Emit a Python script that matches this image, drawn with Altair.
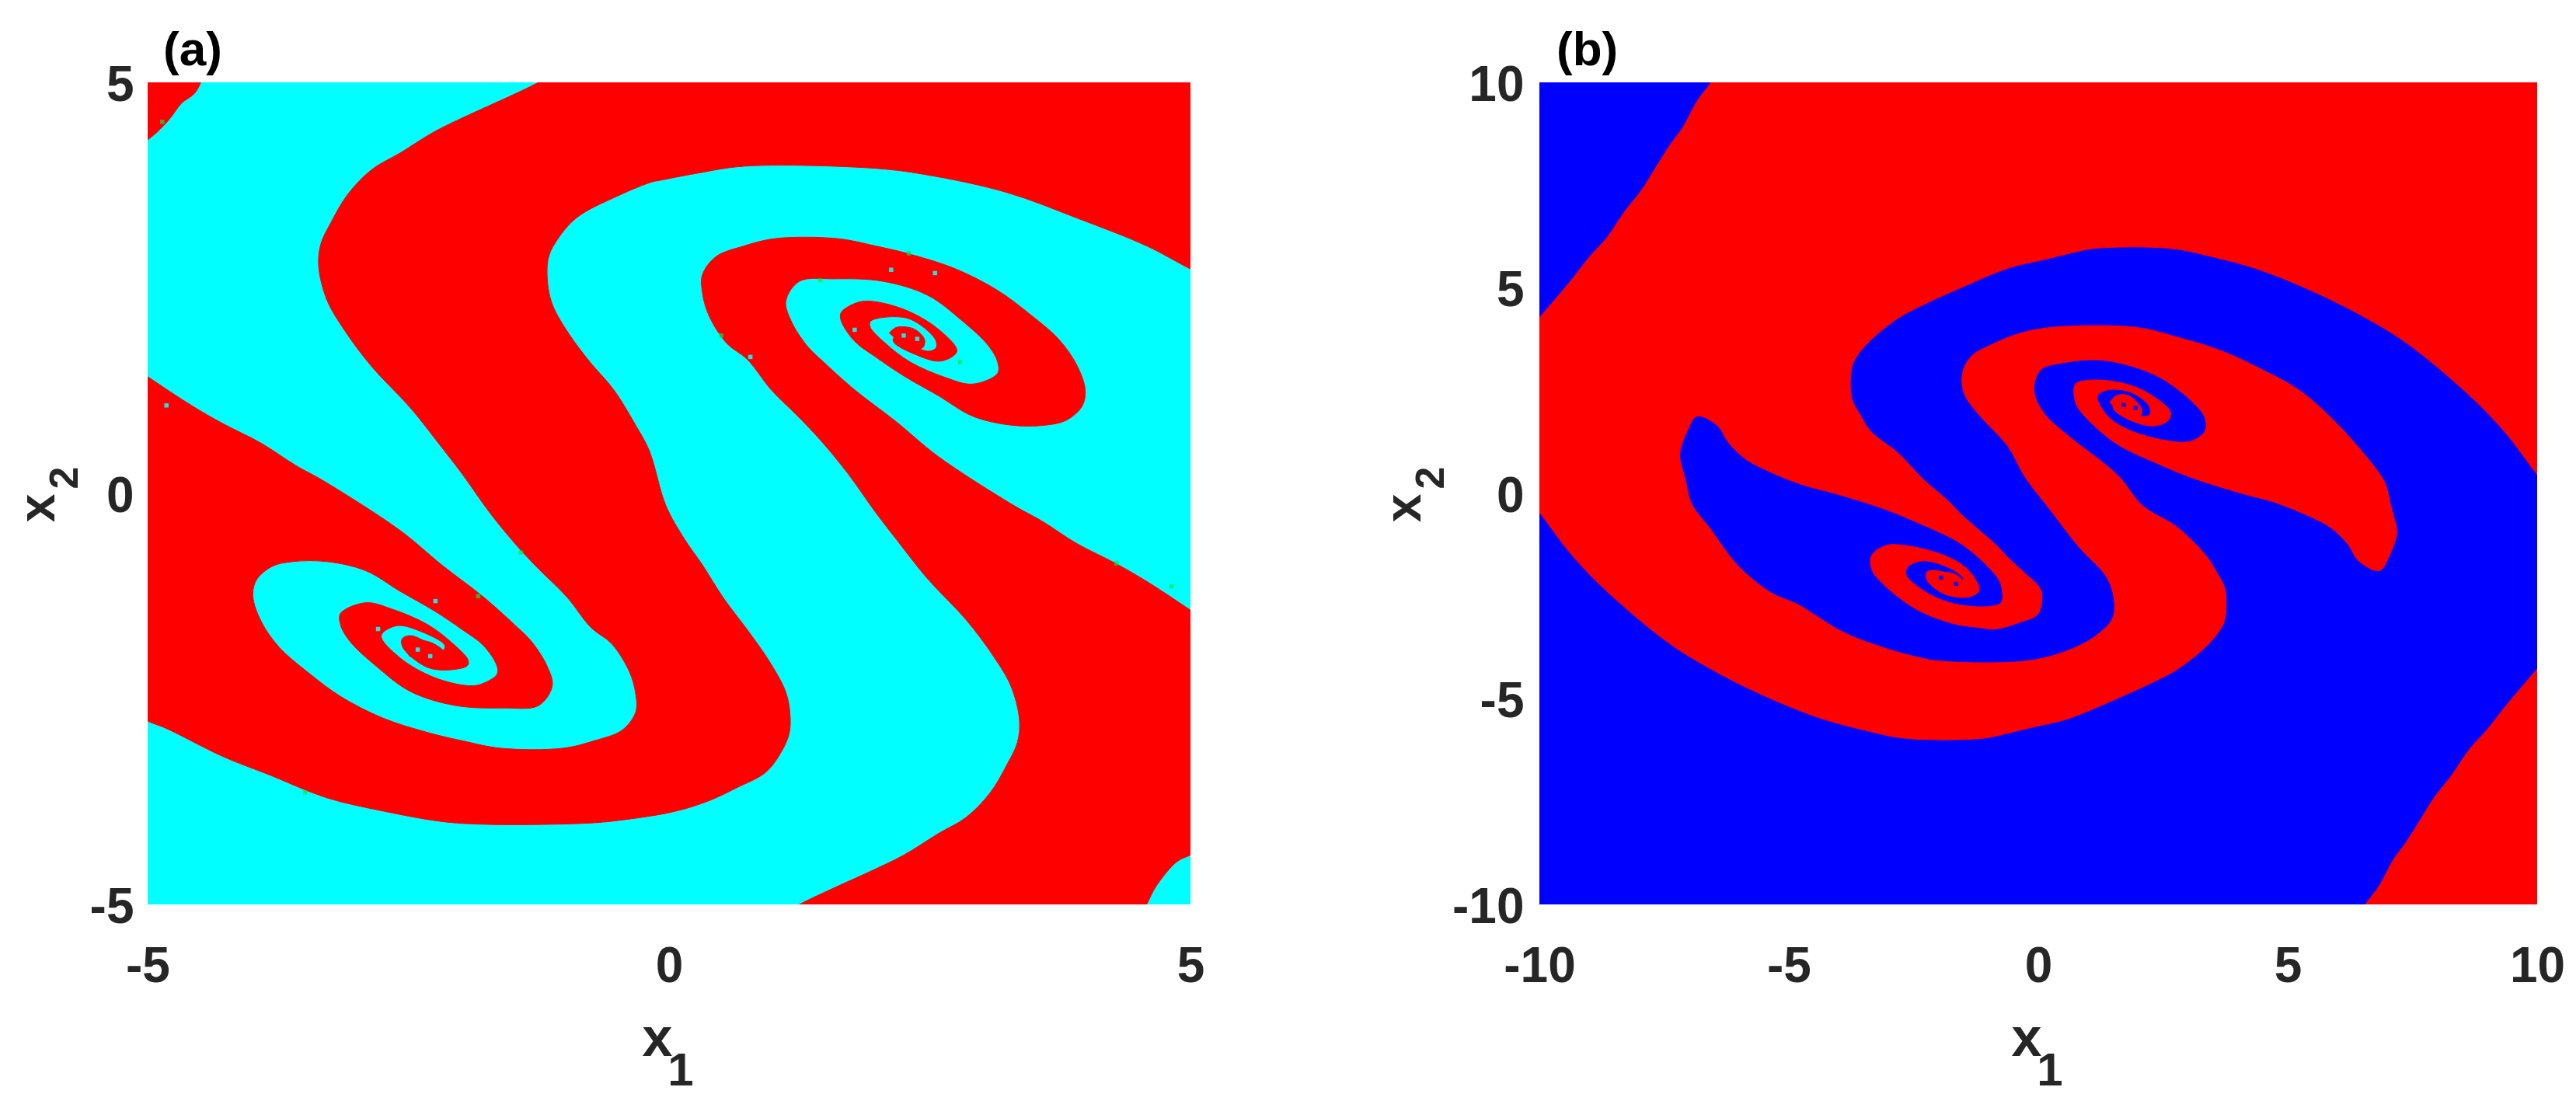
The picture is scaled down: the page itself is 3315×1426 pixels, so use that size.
import altair as alt
import pandas as pd

# ---------- panel (a): basin boundaries (x1, x2) ----------
# first and last vertices lie just outside the frame, so the clipped outline meets the frame cleanly
A_RED_UPPER = [
 (5.5,5.5),(5.5,2.43),(5,2.73),(4.58,3.01),(3.91,3.35),(3.24,3.66),(2.45,3.88),(1.91,3.96),(0.72,3.98),(0.25,3.89),(-0.08,3.81),
 (-0.16,3.79),(-0.49,3.62),(-0.89,3.35),(-1.09,3.05),(-1.16,2.85),(-1.16,2.51),(-1.11,2.27),(-0.96,1.94),(-0.76,1.60),
 (-0.53,1.26),(-0.33,0.85),(-0.19,0.52),(-0.03,-0.15),(0.15,-0.56),(0.32,-0.87),(0.52,-1.27),(0.78,-1.71),(0.98,-2.08),
 (1.12,-2.42),(1.16,-2.69),(1.15,-2.93),(1.05,-3.20),(0.92,-3.40),(0.65,-3.58),(0.38,-3.74),(0.05,-3.87),(-0.43,-3.97),
 (-0.76,-4.01),(-1.49,-4.03),(-1.89,-4.02),(-2.19,-3.99),(-2.72,-3.87),(-3.29,-3.70),(-3.82,-3.43),(-4.28,-3.20),
 (-4.82,-2.86),(-5,-2.77),(-5.5,-2.45),(-5.5,1.85),(-5,1.42),(-4.58,1.07),(-4.28,0.85),(-3.91,0.61),(-3.58,0.34),(-3.31,0.15),(-2.58,-0.45),
 (-2.18,-0.87),(-1.78,-1.26),(-1.48,-1.60),(-1.32,-1.80),(-1.17,-2.10),(-1.12,-2.34),(-1.25,-2.58),(-1.58,-2.61),
 (-2.05,-2.58),(-2.48,-2.41),(-2.81,-2.10),(-3.06,-1.80),(-3.15,-1.60),(-3.15,-1.46),(-2.91,-1.33),(-2.65,-1.41),
 (-2.31,-1.60),(-2.08,-1.82),(-1.93,-2.02),(-1.93,-2.09),(-2.05,-2.14),(-2.31,-2.12),(-2.55,-1.88),(-2.56,-1.77),
 (-2.48,-1.73),(-2.31,-1.82),(-2.18,-1.93),(-2.15,-1.85),(-2.38,-1.68),(-2.61,-1.61),(-2.76,-1.73),(-2.58,-2.00),
 (-2.25,-2.24),(-1.91,-2.34),(-1.78,-2.31),(-1.65,-2.20),(-1.65,-2.10),(-1.78,-1.85),(-1.98,-1.66),(-2.25,-1.43),
 (-2.58,-1.19),(-2.91,-0.94),(-3.28,-0.83),(-3.61,-0.83),(-3.81,-0.89),(-3.96,-1.06),(-3.99,-1.26),(-3.91,-1.56),
 (-3.74,-1.87),(-3.44,-2.20),(-3.15,-2.47),(-2.75,-2.73),(-2.31,-2.91),(-1.98,-3.01),(-1.61,-3.10),(-1.02,-3.10),
 (-0.72,-3.01),(-0.45,-2.88),(-0.32,-2.66),(-0.32,-2.44),(-0.38,-2.17),(-0.55,-1.83),(-0.75,-1.63),(-0.98,-1.26),
 (-1.25,-0.92),(-1.45,-0.65),(-1.71,-0.25),(-1.98,0.23),(-2.18,0.56),(-2.48,1.04),(-2.85,1.54),(-3.11,1.98),
 (-3.28,2.35),(-3.36,2.76),(-3.34,3.03),(-3.24,3.30),(-3.08,3.64),(-2.85,3.94),(-2.58,4.14),(-2.25,4.40),(-1.91,4.61),
 (-1.58,4.80),(-1.25,5),(-0.9,5.25),
]
A_RED_LOWER = [
 (0.9,-5.25),(1.25,-5),(1.58,-4.80),(1.91,-4.61),(2.25,-4.40),(2.58,-4.14),(2.85,-3.94),(3.08,-3.64),(3.24,-3.30),(3.34,-3.03),
 (3.36,-2.76),(3.28,-2.35),(3.11,-1.98),(2.85,-1.54),(2.48,-1.04),(2.18,-0.56),(1.98,-0.23),(1.71,0.25),(1.45,0.65),
 (1.25,0.92),(0.98,1.26),(0.75,1.63),(0.55,1.83),(0.38,2.17),(0.32,2.44),(0.32,2.66),(0.45,2.88),(0.72,3.01),(1.02,3.10),
 (1.61,3.10),(1.98,3.01),(2.31,2.91),(2.75,2.73),(3.15,2.47),(3.44,2.20),(3.74,1.87),(3.91,1.56),(3.99,1.26),(3.96,1.06),
 (3.81,0.89),(3.61,0.83),(3.28,0.83),(2.91,0.94),(2.58,1.19),(2.25,1.43),(1.98,1.66),(1.78,1.85),(1.65,2.10),(1.65,2.20),
 (1.78,2.31),(1.91,2.34),(2.25,2.24),(2.58,2.00),(2.76,1.73),(2.61,1.61),(2.38,1.68),(2.15,1.85),(2.18,1.93),(2.31,1.82),
 (2.48,1.73),(2.56,1.77),(2.55,1.88),(2.31,2.12),(2.05,2.14),(1.93,2.09),(1.93,2.02),(2.08,1.82),(2.31,1.60),(2.65,1.41),
 (2.91,1.33),(3.15,1.46),(3.15,1.60),(3.06,1.80),(2.81,2.10),(2.48,2.41),(2.05,2.58),(1.58,2.61),(1.25,2.58),(1.12,2.34),
 (1.17,2.10),(1.32,1.80),(1.48,1.60),(1.78,1.26),(2.18,0.87),(2.58,0.45),(3.31,-0.15),(3.58,-0.34),(3.91,-0.61),(4.28,-0.85),
 (4.58,-1.07),(5,-1.42),(5.5,-1.85),(5.5,-4.15),(5,-4.40),(4.87,-4.48),(4.67,-4.78),(4.58,-5),(4.45,-5.3),
]
A_RED_CORNER = [(-5.4,5.4),(-4.45,5.4),(-4.53,4.9),(-4.68,4.74),(-4.78,4.57),(-4.88,4.43),(-5,4.30),(-5.4,3.95)]
A_RED_CENTRES = [
 [(2.11,1.95),(2.18,2.02),(2.35,2.00),(2.45,1.87),(2.43,1.77),(2.31,1.77),(2.18,1.87)],
 [(-2.55,-1.88),(-2.49,-1.80),(-2.29,-1.81),(-2.12,-1.98),(-2.14,-2.07),(-2.29,-2.07),(-2.49,-1.98)],
]
A_GREEN = [(2.30,2.92),(1.45,2.59),(0.50,1.92),(2.79,1.60),(4.29,-0.85),(4.82,-1.13),(-3.49,-3.64),(-1.83,-1.25),(-1.42,-0.72),(-4.86,4.52)]
A_SPECKS = [(2.13,2.72),(2.55,2.68),(0.78,1.66),(1.78,1.99),(-4.82,1.07),(-2.24,-1.31),(-2.79,-1.65),(-2.75,-2.21),
            (2.25,1.92),(2.38,1.88),(-2.41,-1.90),(-2.29,-1.98)]

# ---------- panel (b) ----------
B_RED_MAIN = [
 (-10.6,3.4),(-10,4.27),(-9.62,4.81),(-9.34,5.22),(-8.99,5.76),(-8.64,6.23),(-8.30,6.84),(-7.95,7.38),(-7.67,7.92),(-7.39,8.46),
 (-7.11,8.93),(-6.84,9.54),(-6.56,10),(-6.3,10.6),(10.6,10.6),(10.6,-0.4),(10,0.46),(9.39,1.44),(8.70,2.32),(7.45,3.60),(6.61,4.24),(5.57,4.88),
 (4.39,5.46),(3.48,5.76),(2.65,5.96),(1.12,5.96),(0.70,5.86),(0.12,5.69),(-0.58,5.49),(-1.41,5.08),(-2.32,4.58),(-2.80,4.27),
 (-3.36,3.73),(-3.64,3.33),(-3.74,3.06),(-3.74,2.32),(-3.57,1.91),(-3.36,1.51),(-2.80,0.97),(-2.32,0.36),(-1.81,-0.18),
 (-1.51,-0.55),(-1.21,-0.87),(-0.85,-1.25),(-0.55,-1.63),(-0.26,-1.95),(0.04,-2.32),(0.07,-2.63),(-0.02,-2.95),(-0.38,-3.14),
 (-0.85,-3.30),(-1.21,-3.26),(-1.69,-3.17),(-2.44,-2.82),(-3.13,-2.18),(-3.34,-1.84),(-3.34,-1.51),(-3.06,-1.27),(-2.65,-1.27),
 (-1.88,-1.51),(-1.45,-1.81),(-1.22,-2.18),(-1.19,-2.38),(-1.40,-2.52),(-1.88,-2.45),(-2.23,-2.11),(-2.23,-1.91),(-2.02,-1.88),
 (-1.74,-2.01),(-1.57,-2.18),(-1.50,-2.08),(-1.74,-1.84),(-2.30,-1.64),(-2.61,-1.78),(-2.65,-1.98),(-2.23,-2.42),(-1.67,-2.69),
 (-0.98,-2.75),(-0.74,-2.65),(-0.74,-2.25),(-0.84,-2.01),(-1.53,-1.24),(-2.44,-0.70),(-3.13,-0.36),(-4.05,-0.01),(-4.75,0.22),
 (-5.44,0.56),(-5.86,0.83),(-6.21,1.24),(-6.42,1.64),(-6.84,1.88),(-7.04,1.51),(-7.18,1.03),(-7.18,0.83),(-7.08,0.36),(-6.95,-0.25),
 (-6.57,-0.87),(-6.28,-1.37),(-5.98,-1.81),(-5.38,-2.40),(-4.79,-2.72),(-4.49,-2.95),(-3.89,-3.39),(-3.06,-3.77),(-2.40,-3.99),
 (-1.98,-4.08),(-0.26,-4.08),(0.58,-3.83),(1.17,-3.45),(1.50,-3.01),(1.50,-2.44),(1.35,-2.00),(0.82,-1.31),(0.22,-0.37),(-0.26,0.39),
 (-0.61,1.15),(-1.09,1.78),(-1.39,2.22),(-1.51,2.53),(-1.51,2.97),(-1.33,3.35),(-0.97,3.60),(-0.38,3.89),(0.28,4.04),(1.95,4.04),
 (2.79,3.80),(3.69,3.46),(4.52,2.99),(5.22,2.52),(5.92,1.78),(6.75,0.63),(6.95,0.25),(7.08,-0.36),(7.18,-0.83),(7.18,-1.03),
 (7.04,-1.51),(6.84,-1.88),(6.42,-1.64),(6.21,-1.24),(5.86,-0.83),(5.44,-0.56),(4.75,-0.22),(4.05,0.01),(3.13,0.36),(2.44,0.70),
 (1.53,1.24),(0.84,2.01),(0.74,2.25),(0.74,2.65),(0.98,2.75),(1.67,2.69),(2.23,2.42),(2.65,1.98),(2.61,1.78),(2.30,1.64),(1.74,1.84),
 (1.50,2.08),(1.57,2.18),(1.74,2.01),(2.02,1.88),(2.23,1.91),(2.23,2.11),(1.88,2.45),(1.40,2.52),(1.19,2.38),(1.22,2.18),(1.45,1.81),
 (1.88,1.51),(2.65,1.27),(3.06,1.27),(3.34,1.51),(3.34,1.84),(3.13,2.18),(2.44,2.82),(1.67,3.16),(1.12,3.25),(0.42,3.16),(0.07,3.03),
 (-0.07,2.72),(-0.07,2.38),(0.14,1.91),(0.56,1.44),(1.60,0.43),(2.09,-0.30),(2.77,-0.81),(3.36,-1.51),(3.57,-1.91),(3.74,-2.32),
 (3.74,-3.06),(3.64,-3.33),(3.36,-3.73),(2.80,-4.27),(2.32,-4.58),(1.41,-5.08),(0.58,-5.49),(-0.12,-5.69),(-0.70,-5.86),(-1.12,-5.96),
 (-2.65,-5.96),(-3.48,-5.76),(-4.39,-5.46),(-5.57,-4.88),(-6.61,-4.24),(-7.45,-3.60),(-8.70,-2.32),(-9.39,-1.44),(-10,-0.46),(-10.6,0.4),
]
B_RED_CORNER = [(10.6,-10.6),(6.3,-10.6),(6.56,-10),(6.84,-9.54),(7.11,-8.93),(7.39,-8.46),(7.67,-7.92),(7.95,-7.38),(8.30,-6.84),(8.64,-6.23),
                (8.99,-5.76),(9.34,-5.22),(9.62,-4.81),(10,-4.27),(10.6,-3.4)]
B_RED_CENTRES = [
 [(1.43,2.21),(1.57,2.38),(1.81,2.38),(2.06,2.08),(2.06,1.91),(1.81,1.91),(1.53,2.08)],
 [(-2.06,-1.91),(-1.90,-1.91),(-1.65,-1.98),(-1.45,-2.25),(-1.50,-2.36),(-1.81,-2.38),(-2.06,-2.12)],
]
B_SPECKS = [(1.71,2.15),(1.95,2.08),(-1.95,-2.05),(-1.65,-2.20)]

A_TICKS = [-5, 0, 5]
B_TICKS = [-10, -5, 0, 5, 10]
RED, CYAN, BLUE, GREEN = "#ff0000", "#00ffff", "#0000ff", "#00e83c"
FONT = "Liberation Sans"
W_A, W_B, H = 1342, 1284, 1058


def poly(points, name):
    return pd.DataFrame([{"x": p[0], "y": p[1], "i": k, "g": name} for k, p in enumerate(points)])


def panel(lo, hi, ticks, bg, polys, specks, spk_col, green, width, label, label_x, tx, pad):
    xs = alt.Scale(domain=[lo, hi], nice=False, zero=False)
    ys = alt.Scale(domain=[lo, hi], nice=False, zero=False)
    xa = alt.Axis(values=ticks, title=None, grid=False, domain=False, ticks=False, labelFont=FONT,
                  labelFontSize=64, labelFontWeight="bold", labelColor="#262626", labelPadding=pad[0],
                  labelFlush=False, labelOverlap=False, labelExpr="toString(datum.value)")
    ya = alt.Axis(values=ticks, title=None, grid=False, domain=False, ticks=False, labelFont=FONT,
                  labelFontSize=64, labelFontWeight="bold", labelColor="#262626", labelPadding=pad[1],
                  labelFlush=False, labelOverlap=False, labelOffset=4, labelExpr="toString(datum.value)")
    base = alt.Chart(pd.DataFrame({"x": [lo], "x2": [hi], "y": [lo], "y2": [hi]})).mark_rect(color=bg).encode(
        x=alt.X("x:Q", scale=xs, axis=xa), x2="x2:Q", y=alt.Y("y:Q", scale=ys, axis=ya), y2="y2:Q")
    layers = [base]
    for n, p in enumerate(polys):
        layers.append(alt.Chart(poly(p, str(n))).mark_line(fill=RED, stroke=RED, strokeWidth=1, clip=True,
                                                           interpolate="catmull-rom").encode(
            x=alt.X("x:Q", scale=xs), y=alt.Y("y:Q", scale=ys), order="i:Q"))
    layers.append(alt.Chart(poly(specks, "s")).mark_square(color=spk_col, size=30, opacity=0.9).encode(
        x=alt.X("x:Q", scale=xs), y=alt.Y("y:Q", scale=ys)))
    if green:
        layers.append(alt.Chart(poly(green, "g")).mark_square(color=GREEN, size=30).encode(
            x=alt.X("x:Q", scale=xs), y=alt.Y("y:Q", scale=ys)))
    one = pd.DataFrame({"k": [0]})

    def txt(text, px, py, size, align="center", angle=0, color="#262626"):
        return alt.Chart(one).mark_text(text=text, font=FONT, fontWeight="bold", fontSize=size, align=align,
                                        baseline="alphabetic", angle=angle, color=color).encode(
            x=alt.value(px), y=alt.value(py))
    layers += [
        txt(label, label_x, -22, 62, "left", color="#000000"),
        txt("x", tx[0], 1253, 70),
        txt("1", tx[0] + 30, 1291, 60),
        txt("x", -tx[1], 548, 66, angle=270),
        txt("2", -tx[1] + 30, 509, 52, angle=270),
    ]
    return alt.layer(*layers).properties(width=width, height=H)


a = panel(-5, 5, A_TICKS, CYAN, [A_RED_UPPER, A_RED_LOWER, A_RED_CORNER] + A_RED_CENTRES, A_SPECKS, CYAN, A_GREEN,
          W_A, "(a)", 20, (656, 120), (48, 18))
b = panel(-10, 10, B_TICKS, BLUE, [B_RED_MAIN, B_RED_CORNER] + B_RED_CENTRES, B_SPECKS, BLUE, None,
          W_B, "(b)", 22, (627, 153), (48, 20))

chart = alt.hconcat(a, b, spacing=225).configure_view(stroke=None).properties(
    background="white", padding={"left": 9, "top": 26, "right": 0, "bottom": 0})
chart.save("out.html", embed_options={"renderer": "svg", "actions": False})
